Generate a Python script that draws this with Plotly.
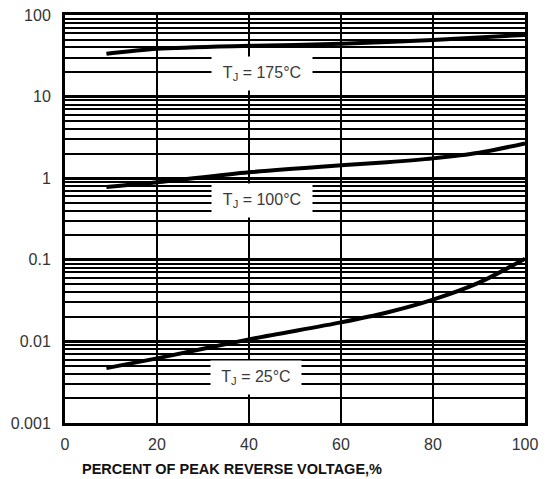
import math
import plotly.graph_objects as go

# Data
x_175 = [9, 20, 40, 60, 80, 100]
y_175 = [33.4, 38.5, 41.9, 44.3, 49.5, 57]

x_100 = [9, 20, 40, 60, 70, 80, 90, 100]
y_100 = [0.78, 0.89, 1.18, 1.44, 1.57, 1.75, 2.05, 2.67]

x_25 = [9, 20, 40, 60, 70, 80, 90, 100]
y_25 = [0.0047, 0.0062, 0.0106, 0.0171, 0.0226, 0.0325, 0.0525, 0.103]

x_ticks = [0, 20, 40, 60, 80, 100]
y_ticks = [0.001, 0.01, 0.1, 1, 10, 100]
y_tick_text = ["0.001", "0.01", "0.1", "1", "10", "100"]
y_minor = [m * d for d in [0.001, 0.01, 0.1, 1, 10] for m in range(2, 10)]

labels = ["T<sub>J</sub> = 175°C", "T<sub>J</sub> = 100°C", "T<sub>J</sub> = 25°C"]
label_x = [42.8, 42.8, 41.5]
label_y = [19, 0.54, 0.0036]

fig = go.Figure()
for xs, ys in [(x_175, y_175), (x_100, y_100), (x_25, y_25)]:
    fig.add_trace(go.Scatter(x=xs, y=ys, mode="lines",
                             line=dict(color="black", width=4, shape="spline", smoothing=0.8),
                             showlegend=False, hoverinfo="skip"))

for t, lx, ly, w in zip(labels, label_x, label_y, [90, 90, 80]):
    fig.add_annotation(x=lx, y=math.log10(ly), yref="y", xref="x", text=t, showarrow=False,
                       font=dict(family="Liberation Sans, Arial", size=16, color="#3a3a3a"),
                       bgcolor="white", borderpad=5, width=w, height=23)

fig.add_annotation(x=0.363, y=-0.113, xref="paper", yref="paper",
                   text="<b>PERCENT OF PEAK REVERSE VOLTAGE,%</b>",
                   showarrow=False, xanchor="center", yanchor="middle",
                   font=dict(family="Liberation Sans, Arial", size=14.5, color="#111"))

fig.update_xaxes(range=[0, 100], tickvals=x_ticks, showgrid=True,
                 gridcolor="black", gridwidth=2, zeroline=False,
                 showline=True, linecolor="black", linewidth=3, mirror=True,
                 ticks="", ticklabelstandoff=5,
                 tickfont=dict(family="Liberation Sans, Arial", size=16, color="#333"))
fig.update_yaxes(type="log", range=[-3, 2], tickvals=y_ticks, ticktext=y_tick_text,
                 showgrid=True, gridcolor="black", gridwidth=3, zeroline=False,
                 showline=True, linecolor="black", linewidth=3, mirror=True,
                 ticks="", ticklabelstandoff=8,
                 tickfont=dict(family="Liberation Sans, Arial", size=16, color="#333"),
                 minor=dict(tickvals=y_minor, showgrid=True, gridcolor="black",
                            gridwidth=1.6, ticks=""))

fig.update_layout(width=552, height=479, plot_bgcolor="white", paper_bgcolor="white",
                  margin=dict(l=65, r=27, t=7, b=56))

fig.write_html("out.html", config={"displayModeBar": False},
               post_script="document.body.style.margin='0';document.body.style.overflow='hidden';")
